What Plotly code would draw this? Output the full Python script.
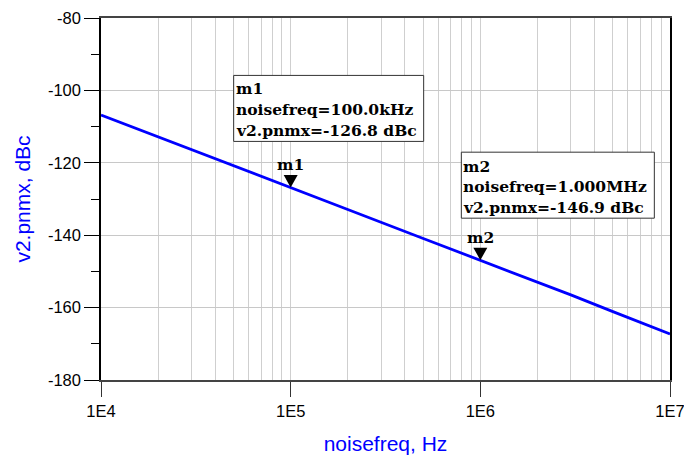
import math
import plotly.graph_objects as go

# Phase-noise sweep: v2.pnmx versus offset frequency
noisefreq_hz = [1e4, 2e4, 5e4, 1e5, 2e5, 5e5, 1e6, 2e6, 3e6, 5e6, 7e6, 1e7]
pnmx_dbc = [-106.8, -112.8, -120.8, -126.8, -132.9, -140.9, -146.9,
            -153.0, -156.5, -161.1, -164.2, -167.3]

# Markers placed on the trace
marker_names = ["m1", "m2"]
marker_freq = [1e5, 1e6]
marker_freq_text = ["100.0kHz", "1.000MHz"]
marker_val = [-126.8, -146.9]

# Axis ticks
x_tick_vals = [1e4, 1e5, 1e6, 1e7]
x_tick_text = ["1E4", "1E5", "1E6", "1E7"]
y_tick_vals = [-180, -160, -140, -120, -100, -80]
y_tick_text = [str(v) for v in y_tick_vals]

minor_x = [m * 10 ** d for d in range(4, 7) for m in range(2, 10)]

BLUE = "#0000ff"
SANS = "Liberation Sans, Arial, sans-serif"
SERIF = "DejaVu Serif, serif"
BOX_FONT = 15.5


def px_rect(x0, x1, y0, y1):
    return f"M{x0},{y0} L{x1},{y0} L{x1},{y1} L{x0},{y1} Z"


fig = go.Figure()
fig.add_trace(go.Scatter(x=noisefreq_hz, y=pnmx_dbc, mode="lines",
                         line=dict(color=BLUE, width=2.8), hoverinfo="skip"))

shapes = []
annotations = []
# per-marker label box layout (pixel offsets from the marker point)
box_layout = [
    dict(x0=-57, x1=133, y0=46, y1=112, tx=-56, lines=[98.5, 77.5, 57]),
    dict(x0=-19, x1=174, y0=42, y1=108, tx=-18, lines=[94, 73.5, 53]),
]
for name, f, ftxt, v, bl in zip(marker_names, marker_freq, marker_freq_text,
                               marker_val, box_layout):
    lf = math.log10(f)  # annotation positions on a log axis are in log units
    # downward triangle with its tip on the trace
    shapes.append(dict(type="path", xref="x", yref="y",
                       xsizemode="pixel", ysizemode="pixel",
                       xanchor=f, yanchor=v,
                       path="M-7,12.5 L7,12.5 L0,0 Z",
                       fillcolor="black", line=dict(width=0)))
    annotations.append(dict(x=lf, y=v, xref="x", yref="y", text=f"<b>{name}</b>",
                            showarrow=False, xanchor="center", yanchor="middle",
                            yshift=22.5,
                            font=dict(family=SERIF, size=BOX_FONT, color="black")))
    # readout box
    shapes.append(dict(type="path", xref="x", yref="y",
                       xsizemode="pixel", ysizemode="pixel",
                       xanchor=f, yanchor=v,
                       path=px_rect(bl["x0"], bl["x1"], bl["y0"], bl["y1"]),
                       fillcolor="white", line=dict(color="#333333", width=1)))
    texts = [name, f"noisefreq={ftxt}", f"v2.pnmx={v:.1f} dBc"]
    for t, dy in zip(texts, bl["lines"]):
        annotations.append(dict(x=lf, y=v, xref="x", yref="y", text=f"<b>{t}</b>",
                                showarrow=False, xanchor="left", yanchor="middle",
                                xshift=bl["tx"], yshift=dy, borderpad=0,
                                font=dict(family=SERIF, size=BOX_FONT, color="black")))

fig.update_layout(
    width=684, height=455,
    margin=dict(l=101, r=14, t=18, b=75, autoexpand=False),
    paper_bgcolor="white", plot_bgcolor="white",
    showlegend=False,
    shapes=shapes, annotations=annotations,
    xaxis=dict(
        type="log", range=[4, 7], automargin=False,
        tickvals=x_tick_vals, ticktext=x_tick_text,
        ticks="outside", ticklen=15, tickcolor="#333333",
        ticklabeloverflow="allow",
        showgrid=True, gridcolor="#cfcfcf", gridwidth=1,
        minor=dict(tickvals=minor_x, showgrid=True, gridcolor="#cfcfcf",
                   gridwidth=1, ticks=""),
        showline=True, linecolor="#444444", linewidth=1.5, mirror=True,
        zeroline=False,
        tickfont=dict(family=SANS, size=16.5, color="black"),
        title=dict(text="noisefreq, Hz", standoff=22,
                   font=dict(family=SANS, size=21, color=BLUE)),
    ),
    yaxis=dict(
        range=[-180, -80], automargin=False,
        tickvals=y_tick_vals, ticktext=y_tick_text,
        ticks="outside", ticklen=15, tickcolor="black",
        minor=dict(dtick=10, ticks="outside", ticklen=8, tickcolor="black",
                   showgrid=False),
        showgrid=True, gridcolor="#c8c8c8", gridwidth=1,
        showline=True, linecolor="black", linewidth=1.5, mirror=True,
        zeroline=False,
        tickfont=dict(family=SANS, size=16.5, color="black"),
        title=dict(text="v2.pnmx, dBc", standoff=12,
                   font=dict(family=SANS, size=21, color=BLUE)),
    ),
)

fig.write_html("out.html")
